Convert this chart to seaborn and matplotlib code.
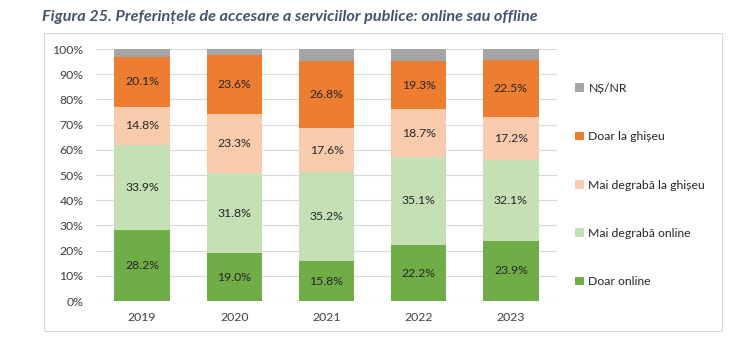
import matplotlib
matplotlib.use("Agg")
import matplotlib.pyplot as plt
import seaborn as sns
import pandas as pd
import numpy as np
from matplotlib.patches import Rectangle

years = ["2019", "2020", "2021", "2022", "2023"]
doar_online = [28.2, 19.0, 15.8, 22.2, 23.9]
mai_online = [33.9, 31.8, 35.2, 35.1, 32.1]
mai_ghiseu = [14.8, 23.3, 17.6, 18.7, 17.2]
doar_ghiseu = [20.1, 23.6, 26.8, 19.3, 22.5]
ns_nr = [3.0, 2.3, 4.6, 4.7, 4.3]

series_names = ["Doar online", "Mai degrabă online", "Mai degrabă la ghișeu", "Doar la ghișeu", "NȘ/NR"]
series_vals = [doar_online, mai_online, mai_ghiseu, doar_ghiseu, ns_nr]
colors = ["#70AD47", "#C5E0B4", "#F8CBAD", "#ED7D31", "#A5A5A5"]
show_labels = [True, True, True, True, False]

sns.set_theme(style="white")
plt.rcParams['font.family'] = ['Lato', 'DejaVu Sans']

FS = 8.8

fig = plt.figure(figsize=(7.51, 3.45), dpi=100)
ax = fig.add_axes([96/751, (345-301)/345, (557-96)/751, (301-49)/345])

# border of chart area
fig.patches.append(Rectangle((44/751, (345-331)/345), (722-44)/751, (331-33)/345,
                             transform=fig.transFigure, fill=False,
                             edgecolor="#D9D9D9", linewidth=0.8, zorder=0))

bottom = np.zeros(len(years))
for name, vals, col, lab in zip(series_names, series_vals, colors, show_labels):
    df = pd.DataFrame({"year": years, "val": vals})
    sns.barplot(data=df, x="year", y="val", bottom=bottom, color=col, width=0.6,
                ax=ax, saturation=1, linewidth=0, label=name, zorder=3)
    if lab:
        for i, v in enumerate(vals):
            ax.text(i, bottom[i] + v / 2, f"{v:.1f}%", ha="center", va="center",
                    fontsize=FS, color="#262626", zorder=4)
    bottom = bottom + np.array(vals)

ax.set_ylim(0, 100)
ax.set_xlim(-0.5, 4.5)
ax.set_yticks(np.arange(0, 101, 10))
ax.set_yticklabels([f"{t}%" for t in range(0, 101, 10)], fontsize=FS, color="#404040")
ax.tick_params(axis="x", labelsize=FS, colors="#404040", length=0, pad=8)
ax.tick_params(axis="y", length=0, pad=9)
ax.set_xlabel("")
ax.set_ylabel("")
ax.grid(axis="y", color="#D9D9D9", linewidth=0.8, zorder=0)
ax.set_axisbelow(True)
for s in ax.spines.values():
    s.set_visible(False)

h, l = ax.get_legend_handles_labels()
leg = ax.legend(h[::-1], l[::-1], loc="upper left", bbox_to_anchor=(564/751, (345-72)/345),
                bbox_transform=fig.transFigure, frameon=False, fontsize=FS,
                handlelength=0.7, handleheight=0.7, handletextpad=0.4, labelspacing=3.05)
for t in leg.get_texts():
    t.set_color("#262626")

fig.text(42/751, (345-17)/345, "Figura 25. Preferințele de accesare a serviciilor publice: online sau offline",
         fontsize=11.7, fontweight="bold", fontstyle="italic", color="#44546A",
         ha="left", va="center")

fig.savefig("out.png", dpi=100)
